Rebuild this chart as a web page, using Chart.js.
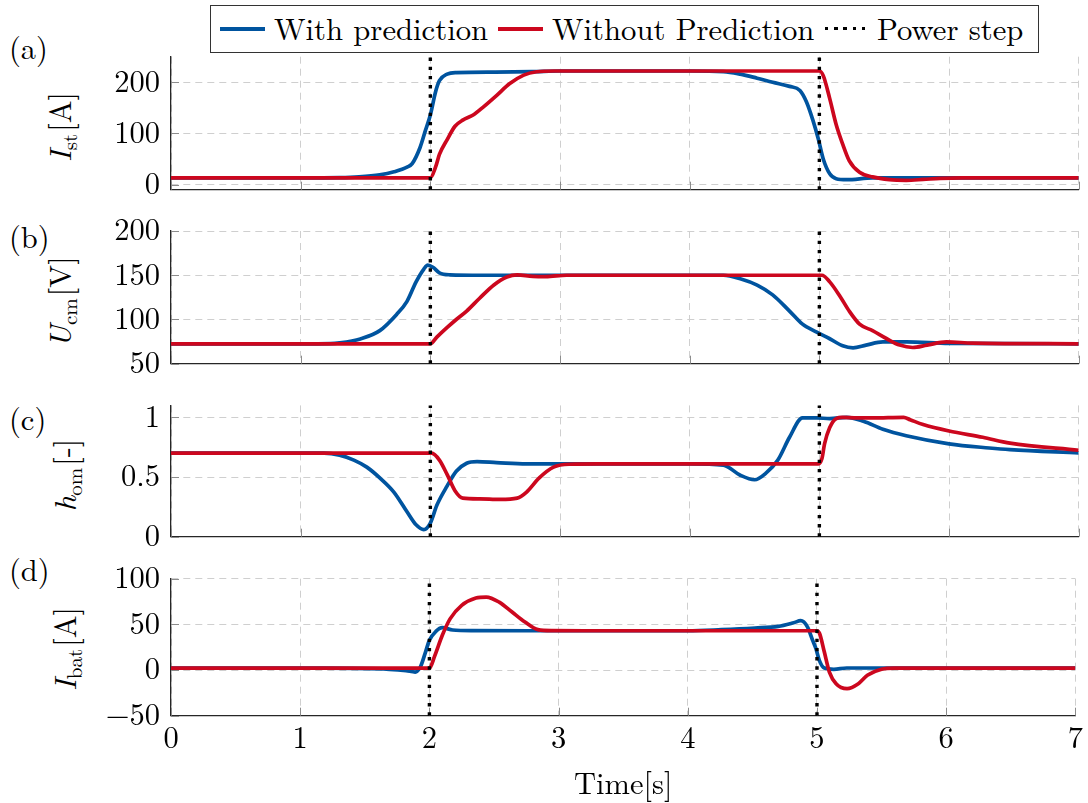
<!DOCTYPE html>
<html>
<head>
<meta charset="utf-8">
<script src="https://cdn.jsdelivr.net/npm/chart.js@4.4.1/dist/chart.umd.min.js"></script>
<style>
  html, body { margin: 0; padding: 0; background: #fff; }
  body { width: 1088px; height: 803px; position: relative; overflow: hidden; color: #000; }
  .tx { font-family: 'Latin Modern Roman', 'Liberation Serif', serif; }
  canvas { position: absolute; left: 0; }
  .tag { position: absolute; font-size: 30.5px; line-height: 30px; white-space: nowrap; }
  .ytitle { position: absolute; font-size: 30.5px; line-height: 30px; white-space: nowrap;
            transform: translate(-50%, -50%) rotate(-90deg); }
  .ytitle sub { font-size: 21px; vertical-align: baseline; position: relative; top: 6px; margin-right: 2px; }
  #legend { position: absolute; left: 210px; top: 5px; width: 827px; height: 46px;
            border: 1px solid #333; background: #fff; z-index: 5; }
  .lg-line { position: absolute; top: 21px; height: 3.6px; }
  .lg-text { position: absolute; top: 6px; font-size: 30.7px; line-height: 30px; white-space: nowrap; }
</style>
</head>
<body>

<div id="legend">
  <div class="lg-line" style="left:9px;width:45px;background:#00549F"></div>
  <div class="lg-text tx" style="left:63px">With prediction</div>
  <div class="lg-line" style="left:287px;width:45px;background:#CC071E"></div>
  <div class="lg-text tx" style="left:341px">Without Prediction</div>
  <div class="lg-line" style="left:614px;width:41px;height:3.4px;background:repeating-linear-gradient(to right,#000 0 3.4px,transparent 3.4px 9.2px)"></div>
  <div class="lg-text tx" style="left:666px">Power step</div>
</div>

<div class="tag tx" style="left:9px;top:32px">(a)</div>
<div class="tag tx" style="left:9px;top:221px">(b)</div>
<div class="tag tx" style="left:9px;top:403px">(c)</div>
<div class="tag tx" style="left:9px;top:554px">(d)</div>

<div class="ytitle tx" style="left:60px;top:127px"><i>I</i><sub>st</sub>[A]</div>
<div class="ytitle tx" style="left:60px;top:302px"><i>U</i><sub>cm</sub>[V]</div>
<div class="ytitle tx" style="left:65px;top:475px"><i>h</i><sub>om</sub>[-]</div>
<div class="ytitle tx" style="left:65px;top:649px"><i>I</i><sub>bat</sub>[A]</div>

<canvas id="cA"></canvas>
<canvas id="cB"></canvas>
<canvas id="cC"></canvas>
<canvas id="cD"></canvas>

<script>
// ---- time axis ----
const timeTicks = [0, 1, 2, 3, 4, 5, 6, 7];
const stepTimes = [2, 5];

// ---- (a) stack current I_st [A] ----
const istPredT = [0, 1.0, 1.3, 1.45, 1.61, 1.72, 1.82, 1.86, 1.92, 1.96, 2.0, 2.04, 2.07, 2.13, 2.2, 2.5, 2.8, 3.0, 4.0, 4.26, 4.39, 4.52, 4.64, 4.77, 4.85, 4.90, 4.95, 4.99, 5.03, 5.08, 5.13, 5.21, 5.41, 6.0, 7.0];
const istPredV = [13, 13, 13.5, 15, 19, 25, 34, 41, 72, 104, 136, 181, 203, 216, 219, 220, 221, 222, 222, 221, 216, 208, 200, 192, 184, 162, 126, 91, 50, 21, 11.5, 9.6, 13, 13, 13];
const istNoPredT = [0, 2.0, 2.04, 2.07, 2.13, 2.19, 2.25, 2.33, 2.41, 2.51, 2.61, 2.72, 2.82, 2.95, 5.0, 5.03, 5.08, 5.13, 5.18, 5.23, 5.31, 5.41, 5.54, 5.67, 5.80, 5.93, 6.1, 7.0];
const istNoPredV = [13, 13, 34, 59, 88, 114, 126, 136, 152, 174, 197, 214, 220.5, 222, 222, 213, 168, 117, 79, 47, 24, 15, 9.6, 8.4, 10, 12, 13, 13];

// ---- (b) DC-link voltage U_cm [V] ----
const ucmPredT = [0, 1.0, 1.23, 1.30, 1.46, 1.61, 1.74, 1.82, 1.89, 1.95, 1.98, 2.02, 2.07, 2.15, 2.4, 3.0, 4.0, 4.26, 4.39, 4.52, 4.64, 4.77, 4.87, 4.98, 5.08, 5.18, 5.26, 5.36, 5.49, 5.67, 6.0, 7.0];
const ucmPredV = [72.5, 72.5, 72.7, 73.5, 78, 87.4, 105.7, 120.5, 142.5, 157, 161.5, 159, 152.7, 150.5, 150, 150, 150, 150, 146, 138.8, 127.8, 109.5, 94.7, 85.6, 78.2, 70.2, 68, 71, 74.6, 74.6, 73, 72.5];
const ucmNoPredT = [0, 2.0, 2.05, 2.13, 2.2, 2.28, 2.38, 2.49, 2.59, 2.67, 2.79, 2.89, 3.05, 5.0, 5.02, 5.08, 5.16, 5.23, 5.31, 5.41, 5.52, 5.62, 5.72, 5.83, 5.98, 6.18, 7.0];
const ucmNoPredV = [72.5, 72.5, 80, 91, 100, 109.5, 124, 139, 148, 150.5, 148.7, 148.5, 150, 150, 150, 142.5, 126, 109.5, 94.7, 87.4, 78.2, 71, 68.3, 71, 74.6, 73.3, 72.5];

// ---- (c) duty ratio h_om [-] ----
const homPredT = [0, 1.0, 1.18, 1.30, 1.41, 1.51, 1.61, 1.72, 1.82, 1.89, 1.95, 2.0, 2.05, 2.13, 2.2, 2.28, 2.36, 2.51, 2.74, 3.07, 4.0, 4.26, 4.39, 4.50, 4.59, 4.68, 4.77, 4.87, 4.98, 5.08, 5.21, 5.34, 5.49, 5.67, 6.0, 6.31, 6.47, 7.0];
const homPredV = [0.70, 0.70, 0.70, 0.683, 0.642, 0.583, 0.493, 0.372, 0.209, 0.10, 0.06, 0.114, 0.263, 0.426, 0.548, 0.615, 0.629, 0.621, 0.61, 0.61, 0.61, 0.60, 0.515, 0.477, 0.534, 0.642, 0.833, 0.995, 0.995, 0.99, 1.0, 0.967, 0.90, 0.846, 0.778, 0.743, 0.729, 0.702];
const homNoPredT = [0, 2.01, 2.07, 2.13, 2.19, 2.25, 2.38, 2.54, 2.67, 2.74, 2.84, 2.95, 3.07, 3.3, 4.99, 5.02, 5.04, 5.08, 5.13, 5.18, 5.29, 5.41, 5.65, 5.70, 5.80, 6.0, 6.26, 6.47, 7.0];
const homNoPredV = [0.70, 0.70, 0.642, 0.52, 0.385, 0.323, 0.317, 0.312, 0.323, 0.372, 0.493, 0.583, 0.607, 0.61, 0.61, 0.656, 0.778, 0.914, 0.99, 1.0, 0.995, 0.995, 1.0, 0.98, 0.94, 0.886, 0.833, 0.784, 0.724];

// ---- (d) battery current I_bat [A] ----
const ibatPredT = [0, 1.2, 1.69, 1.82, 1.89, 1.93, 1.97, 2.0, 2.05, 2.10, 2.18, 2.33, 3.0, 4.0, 4.26, 4.52, 4.70, 4.82, 4.874, 4.927, 4.965, 4.992, 5.018, 5.057, 5.13, 5.23, 7.0];
const ibatPredV = [2, 2, 0.8, -0.7, -2.2, 3.3, 19.7, 32.5, 42.3, 46.4, 43.8, 43.1, 43, 43, 44.2, 46, 47.8, 51.8, 54, 47, 33, 23.4, 10.6, 2.2, 0.8, 2.2, 2];
const ibatNoPredT = [0, 2.0, 2.04, 2.10, 2.16, 2.25, 2.36, 2.44, 2.54, 2.64, 2.74, 2.84, 2.95, 3.2, 5.0, 5.02, 5.057, 5.096, 5.148, 5.233, 5.32, 5.39, 5.5, 5.6, 7.0];
const ibatNoPredV = [2, 2, 15, 38, 56, 70.8, 78.8, 79.9, 74.4, 63.5, 52.5, 44.2, 43.1, 43, 43, 40, 19.7, -2.2, -15, -20.4, -15, -5.8, 0.8, 2, 2];

// ---- axis bounds per panel ----
const yMin  = [-10, 50, 0, -50];
const yMax  = [250, 200, 1.1, 100];
const yStep = [100, 50, 0.5, 50];

const BLUE = '#00549F';
const RED = '#CC071E';
const GRID = '#cfcfcf';
const AXIS = '#262626';
const W = 1088, H = 803;
const PLOT_LEFT = 171, PLOT_RIGHT = 1078.7;

// plot area top/bottom of each panel (page pixels)
const areaTop = [56.7, 231, 405.4, 578.7];
const areaBottom = [193.3, 367.3, 540.7, 715.7];

Chart.defaults.font.family = "'Latin Modern Roman', 'Liberation Serif', serif";
Chart.defaults.font.size = 30.5;
Chart.defaults.color = '#000';

const xy = (t, v) => t.map((x, i) => ({ x, y: v[i] }));

// short inward tick marks on the bottom and left axis lines
const innerTicks = {
  id: 'innerTicks',
  beforeDatasetsDraw(chart) {
    const { ctx, chartArea: a, scales: { x, y } } = chart;
    ctx.save();
    ctx.strokeStyle = '#8c8c8c';
    ctx.lineWidth = 1;
    x.ticks.forEach(t => {
      const px = Math.round(x.getPixelForValue(t.value)) + 0.5;
      ctx.beginPath(); ctx.moveTo(px, a.bottom); ctx.lineTo(px, a.bottom - 8); ctx.stroke();
    });
    y.ticks.forEach(t => {
      const py = Math.round(y.getPixelForValue(t.value)) + 0.5;
      ctx.beginPath(); ctx.moveTo(a.left, py); ctx.lineTo(a.left + 8, py); ctx.stroke();
    });
    ctx.restore();
  }
};

function stepLine(lo, hi) {
  const pts = [];
  stepTimes.forEach((t, i) => {
    if (i > 0) pts.push({ x: (stepTimes[i - 1] + t) / 2, y: null });
    pts.push({ x: t, y: lo }, { x: t, y: hi });
  });
  return pts;
}

function makePanel(idx, canvasId, pred, noPred, withTimeAxis) {
  const top = areaTop[idx], bottom = areaBottom[idx];
  const canvasTop = Math.floor(top) - 40;
  const padTop = top - canvasTop;
  let canvasH, padBottom, xHeight;
  if (withTimeAxis) {
    canvasH = H - canvasTop;
    padBottom = 0;
    xHeight = H - bottom;
  } else {
    canvasH = Math.ceil(bottom) + 25 - canvasTop;
    padBottom = canvasTop + canvasH - bottom;
    xHeight = 0;
  }
  const cv = document.getElementById(canvasId);
  cv.style.top = canvasTop + 'px';
  cv.width = W; cv.height = canvasH;
  cv.style.width = W + 'px'; cv.style.height = canvasH + 'px';

  new Chart(cv, {
    type: 'line',
    data: {
      datasets: [
        { label: 'Power step', data: stepLine(yMin[idx], yMax[idx]), borderColor: '#000',
          borderWidth: 3.4, borderDash: [3.4, 5.8], pointRadius: 0, tension: 0,
          spanGaps: false, clip: false, order: 0 },
        { label: 'Without Prediction', data: xy(noPred[0], noPred[1]), borderColor: RED,
          borderWidth: 3.7, pointRadius: 0, cubicInterpolationMode: 'monotone', order: 1 },
        { label: 'With prediction', data: xy(pred[0], pred[1]), borderColor: BLUE,
          borderWidth: 3.7, pointRadius: 0, cubicInterpolationMode: 'monotone', order: 2 }
      ]
    },
    options: {
      responsive: false,
      animation: false,
      devicePixelRatio: 1,
      events: [],
      layout: { padding: { top: padTop, left: 0, right: W - PLOT_RIGHT, bottom: padBottom } },
      plugins: { legend: { display: false }, tooltip: { enabled: false } },
      scales: {
        x: {
          type: 'linear', min: 0, max: 7,
          afterBuildTicks: s => { s.ticks = timeTicks.map(v => ({ value: v })); },
          ticks: { display: withTimeAxis, padding: 5, maxRotation: 0, autoSkip: false },
          grid: { color: GRID, lineWidth: 1, drawTicks: false },
          border: { display: true, color: AXIS, width: 1.3, dash: [7, 5] },
          title: { display: withTimeAxis, text: 'Time[s]', padding: { top: 0, bottom: 0 } },
          afterFit: s => { s.height = xHeight; }
        },
        y: {
          type: 'linear', min: yMin[idx], max: yMax[idx],
          ticks: { stepSize: yStep[idx], includeBounds: false, padding: 11,
                   callback: v => String(v).replace('-', '\u2212') },
          grid: { color: GRID, lineWidth: 1, drawTicks: false },
          border: { display: true, color: AXIS, width: 1.3, dash: [7, 5] },
          afterFit: s => { s.width = PLOT_LEFT; }
        }
      }
    },
    plugins: [innerTicks]
  });
}

function drawAll() {
  makePanel(0, 'cA', [istPredT, istPredV], [istNoPredT, istNoPredV], false);
  makePanel(1, 'cB', [ucmPredT, ucmPredV], [ucmNoPredT, ucmNoPredV], false);
  makePanel(2, 'cC', [homPredT, homPredV], [homNoPredT, homNoPredV], false);
  makePanel(3, 'cD', [ibatPredT, ibatPredV], [ibatNoPredT, ibatNoPredV], true);
}
// make sure the serif face is ready before the canvases render their text
document.fonts.load("30px 'Latin Modern Roman'").then(drawAll, drawAll);
</script>
</body>
</html>
